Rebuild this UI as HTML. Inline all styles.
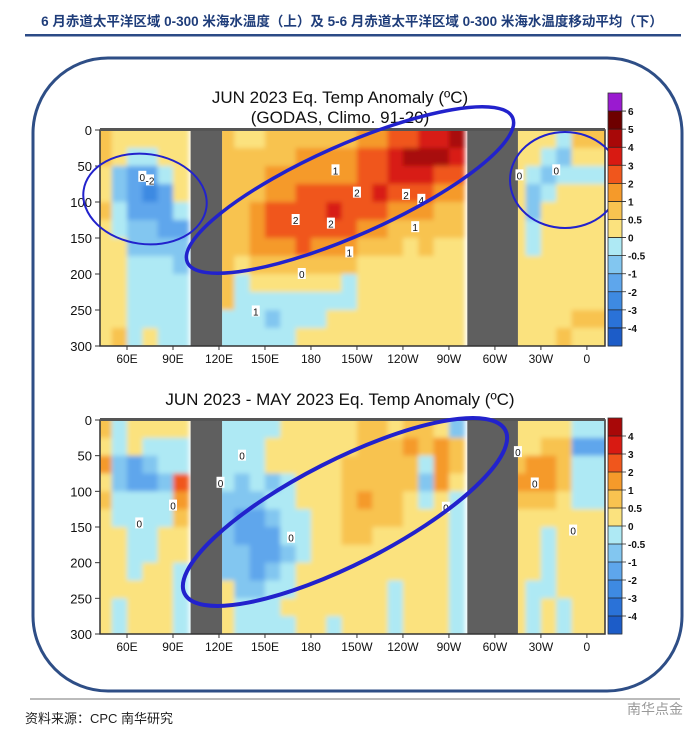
<!DOCTYPE html>
<html><head><meta charset="utf-8">
<style>
body{margin:0;background:#fff;width:700px;height:739px;overflow:hidden;font-family:"Liberation Sans","Noto Sans CJK SC",sans-serif}
svg{position:absolute;left:0;top:0}
</style></head>
<body>
<svg id="s" width="700" height="739" viewBox="0 0 700 739">
<defs><filter id="bl" x="-5%" y="-5%" width="110%" height="110%"><feGaussianBlur stdDeviation="2.5"/></filter>
<clipPath id="cpT"><rect x="100" y="130" width="505" height="216"/></clipPath>
<clipPath id="cpB"><rect x="100" y="420" width="505" height="214"/></clipPath></defs>
<text x="352" y="26" text-anchor="middle" font-size="13.5" font-weight="bold" fill="#1f3d7a" font-family="Liberation Sans,Noto Sans CJK SC,sans-serif">6 月赤道太平洋区域 0-300 米海水温度（上）及 5-6 月赤道太平洋区域 0-300 米海水温度移动平均（下）</text>
<rect x="25" y="34" width="656" height="2.5" fill="#2b4a86"/>
<rect x="33" y="58" width="649" height="633" rx="75" ry="75" fill="none" stroke="#2e4e86" stroke-width="3"/>
<g id="top"></g>
<g id="bot"></g>
<rect x="30" y="698" width="650" height="2" fill="#bbb"/>
<text x="25" y="723" font-size="13" fill="#222">资料来源：CPC 南华研究</text>
<text x="683" y="714" text-anchor="end" font-size="14" fill="#999">南华点金</text>
</svg>
<script>
const lons=[40,50,60,70,80,90,100,110,120,130,140,150,160,170,180,190,200,210,220,230,240,250,260,270,280,290,300,310,320,330,340,350];
const depths=[0,25,50,75,100,125,150,175,200,225,250,275];
const xTickLabels=["60E","90E","120E","150E","180","150W","120W","90W","60W","30W","0"];
const xTickLons=[60,90,120,150,180,210,240,270,300,330,360];
const yTicks=[0,50,100,150,200,250,300];
const topBarLabels=["6","5","4","3","2","1","0.5","0","-0.5","-1","-2","-3","-4"];
const botBarLabels=["4","3","2","1","0.5","0","-0.5","-1","-2","-3","-4"];
const N=null;
const topData=[
[.7,.3,.3,.3,.3,.3,N,N,.8,.3,.3,.6,.6,.6,.7,.8,1.0,1.2,1.6,2.2,2.8,3.2,3.5,4.2,N,N,N,.3,.3,.3,-.2,.7],
[.6,.2,-.3,-.2,.3,.3,N,N,.8,.6,.7,.8,1.0,1.1,1.3,1.5,1.8,2.2,2.8,3.5,4.3,4.5,4.5,3.8,N,N,N,.3,.3,-.3,-.6,.3],
[.4,-.6,-1.2,-1.0,-.3,.3,N,N,1.0,.7,.8,1.2,1.3,1.6,1.8,1.8,2.0,2.4,2.8,3.2,3.5,3.5,3.0,2.2,N,N,N,.3,-.3,-.6,-.4,-.3],
[.3,-.8,-1.5,-2.1,-1.2,.3,N,N,1.0,.8,1.0,1.6,1.8,2.1,2.2,2.3,2.5,2.8,3.1,3.0,2.8,2.4,1.8,1.2,N,N,N,.3,-.8,-.2,.3,.3],
[.6,-.4,-1.2,-1.5,-1.0,-.3,N,N,.9,.8,1.5,2.2,2.4,2.5,2.6,3.1,2.6,2.4,2.3,2.0,1.6,1.3,1.0,.7,N,N,N,.3,-.6,.3,.3,.3],
[.3,-.3,-.8,-.8,-1.2,-1.0,N,N,.8,.6,2.0,2.3,2.8,2.6,2.4,2.5,2.2,1.8,1.4,1.0,.8,.6,.7,.6,N,N,N,.3,-.4,.3,.3,.3],
[.3,.3,-.5,-.5,-.6,-.8,N,N,.7,.7,1.4,1.8,2.0,2.1,2.0,1.7,1.2,1.0,.7,.6,.5,.6,.5,.4,N,N,N,.3,-.3,.3,.3,.3],
[.3,.3,-.4,-.4,-.4,-.5,N,N,.8,.3,1.0,1.0,.9,.9,1.0,.8,.6,.4,.3,.3,.3,.3,.3,.3,N,N,N,.3,.3,.3,.3,.3],
[.3,.3,-.4,-.4,-.3,-.3,N,N,.7,-.3,.3,.3,.3,.3,.3,.1,-.2,.3,.3,.3,.3,.3,.3,.3,N,N,N,.3,.3,.3,.3,.3],
[.3,.3,-.4,-.4,-.3,-.3,N,N,.6,-.4,-.3,-.4,-.4,-.4,-.3,-.3,-.2,.3,.3,.3,.3,.3,.3,.3,N,N,N,.3,.3,.3,.3,.3],
[.3,.3,-.4,-.3,-.3,-.3,N,N,-.3,-.4,-.3,-.6,-.4,-.3,-.3,.3,.3,.3,.3,.3,.3,.3,.3,.3,N,N,N,.3,.3,.3,.3,.6],
[.3,.6,-.3,.3,-.3,-.3,N,N,-.3,-.3,-.3,-.3,-.3,.3,.3,.3,.3,.3,.3,.3,.3,.3,.3,.3,N,N,N,.3,.3,.3,.6,.3]];
const botData=[
[.7,-.3,.3,.3,.3,.3,N,N,-.3,-.3,-.3,-.3,.3,.3,.3,.3,.3,.7,.7,.3,.7,.7,.3,-.6,N,N,N,.3,.3,.3,.3,-.3],
[.3,-.3,.3,-.3,-.3,-.3,N,N,-.3,-.3,-.3,.3,.3,.3,.3,.3,.3,.7,.7,.7,1.2,.7,1.2,.7,N,N,N,.3,.3,.7,.7,-1.0],
[1.2,-.7,-1.2,-.6,-.3,-.3,N,N,-.3,-.3,-.3,.3,.3,.3,.3,.3,.7,.7,.7,.7,.7,-.3,1.2,.7,N,N,N,.7,1.2,2.0,.7,-.3],
[.3,-.8,-1.2,-1.1,-.6,2.2,N,N,-.3,-.6,-.3,-.6,-.3,.3,.3,.3,.7,.7,.7,.7,.7,-.6,1.2,.3,N,N,N,1.2,1.2,1.2,.7,-.3],
[.7,-.3,-.4,-.4,-.4,2.0,N,N,-.6,-.7,-.6,-.4,-.3,.3,.3,.3,.7,1.3,.7,.7,.3,-.3,.3,-.3,N,N,N,.7,.7,.7,.3,-.3],
[.3,-.3,-.3,-.3,-.3,.7,N,N,-.6,-1.0,-1.2,-.7,-.3,-.3,.3,.3,.7,.7,.7,.7,.3,.3,.3,-.3,N,N,N,.3,.3,.3,.3,.3],
[.3,.3,-.3,-.3,.3,.3,N,N,-.6,-1.1,-1.3,-1.0,-.4,-.3,.3,.3,.7,.7,.3,.3,.3,.3,.3,-.3,N,N,N,.3,.3,-.3,.3,.3],
[.3,.3,-.3,-.3,.3,.3,N,N,-.6,-.8,-1.2,-1.1,-.6,-.3,.3,.3,.3,.3,.3,.3,.3,.3,.3,-.3,N,N,N,.3,.3,-.3,.3,.3],
[.3,.3,-.3,.3,.3,-.3,N,N,-.6,-.7,-1.0,-.7,-.3,.3,.3,.3,.3,.3,.3,.3,.3,.3,.3,-.3,N,N,N,.3,.3,-.3,.3,.3],
[.3,.3,.3,.3,.3,-.3,N,N,.3,-.6,-.6,-.4,-.3,.3,.3,.3,.3,.3,.3,-.3,.3,.3,.3,-.3,N,N,N,.3,-.3,-.3,.3,.3],
[.3,-.3,.3,.3,.3,-.3,N,N,.3,-.3,-.3,-.3,.3,.3,.3,.3,.3,.3,.3,-.3,.3,.3,.3,-.3,N,N,N,.3,-.3,.3,-.3,.3],
[.3,-.3,.3,.3,.3,-.3,N,N,.3,-.3,-.3,-.3,-.3,.3,.3,-.3,.3,.3,.3,-.3,.3,.3,.3,-.3,N,N,N,.3,-.3,.3,-.3,.3]];

const NS="http://www.w3.org/2000/svg";
const PL=100,PR=605;
function xS(lon){return 127+(lon-60)*1.533;}
function color(v){
 if(v>6)return"#9a1ad0";if(v>5)return"#6e0000";if(v>4)return"#a80808";if(v>3)return"#d81a12";
 if(v>2)return"#f0561c";if(v>1)return"#f59a2a";if(v>0.5)return"#f8c350";if(v>=0)return"#fbe27e";
 if(v>-0.5)return"#aee9f4";if(v>-1)return"#82c6f0";if(v>-2)return"#5ea6ec";if(v>-3)return"#3e8ae2";if(v>-4)return"#2a72d8";return"#1c5cc8";}
const barColsTop=["#9a1ad0","#6e0000","#a80808","#d81a12","#f0561c","#f59a2a","#f8c350","#fbe27e","#aee9f4","#82c6f0","#5ea6ec","#3e8ae2","#2a72d8","#1c5cc8"];
const barColsBot=["#a80808","#d81a12","#f0561c","#f59a2a","#f8c350","#fbe27e","#aee9f4","#82c6f0","#5ea6ec","#3e8ae2","#2a72d8","#1c5cc8"];
function mk(tag,attrs,parent){const e=document.createElementNS(NS,tag);for(const k in attrs)e.setAttribute(k,attrs[k]);parent.appendChild(e);return e;}
function txt(parent,x,y,s,size,anchor){const t=mk("text",{x:x,y:y,"font-size":size,"text-anchor":anchor||"middle",fill:"#111","font-family":"Liberation Sans,sans-serif"},parent);t.textContent=s;return t;}

function chart(g,data,y0,y1,titles,barTop,barLabels,barCols,ellipses,labels,clip){
 const yS=d=>y0+(d/300)*(y1-y0);
 titles.forEach((t,i)=>{const e=txt(g,340,t[1],t[0],17);
  
  });
 const cg=mk("g",{"clip-path":`url(#${clip})`},g);
 const hg=mk("g",{filter:"url(#bl)"},cg);
 for(let r=0;r<depths.length;r++){for(let c=0;c<lons.length;c++){
  const v=data[r][c];if(v===null)continue;
  let xa=c==0?PL-10:xS(lons[c]),xb=c==lons.length-1?PR+10:xS(lons[c]+10);
  let ya=r==0?y0-10:yS(depths[r]),yb=r==depths.length-1?y1+10:yS(depths[r]+25);
  const rc=mk("rect",{x:xa,y:ya,width:xb-xa+0.6,height:yb-ya+0.6,fill:color(v)},hg);
  
  
 }}
 const l1=mk("rect",{x:xS(101.5),y:y0,width:xS(122)-xS(101.5),height:y1-y0,fill:"#5f5f5f"},g);
 
 
 const l2=mk("rect",{x:xS(282),y:y0,width:xS(315)-xS(282),height:y1-y0,fill:"#5f5f5f"},g);
 
 
 const fr=mk("rect",{x:PL,y:y0,width:PR-PL,height:y1-y0,fill:"none",stroke:"#333","stroke-width":1.5},g);
 
 
 mk("rect",{x:PL,y:y0-2,width:PR-PL,height:3,fill:"#555"},g);
 yTicks.forEach(d=>{mk("line",{x1:PL-5,x2:PL,y1:yS(d),y2:yS(d),stroke:"#333"},g);
  const t=txt(g,PL-8,yS(d)+5,String(d),13,"end");
  
  });
 xTickLons.forEach((lo,i)=>{mk("line",{x1:xS(lo),x2:xS(lo),y1:y1,y2:y1+4,stroke:"#333"},g);
  const t=txt(g,xS(lo),y1+17,xTickLabels[i],12);
  
  });
 labels.forEach(L=>{mk("rect",{x:xS(L[0])-4,y:yS(L[1])-6,width:8,height:11,fill:"#fff"},g);
  const t=txt(g,xS(L[0]),yS(L[1])+4,L[2],10);
  
  });
 ellipses.forEach(E=>{const e=mk("ellipse",{cx:E[0],cy:E[1],rx:E[2],ry:E[3],transform:`rotate(${E[4]} ${E[0]} ${E[1]})`,fill:"none",stroke:"#2222cc","stroke-width":E[5]},g);
  
  });
 const nb=barCols.length,bh=(y1-barTop)/nb;
 barCols.forEach((c,i)=>{const r=mk("rect",{x:608,y:barTop+i*bh,width:14,height:bh+0.5,fill:c},g);
  
  });
 mk("rect",{x:608,y:barTop,width:14,height:y1-barTop,fill:"none",stroke:"#333","stroke-width":0.8},g);
 barLabels.forEach((s,i)=>{const yy=barTop+(i+1)*bh;mk("line",{x1:608,x2:626,y1:yy,y2:yy,stroke:"#222","stroke-width":0.8},g);
  const t=txt(g,628,yy+4,s,10,"start");t.setAttribute("font-weight","bold");
  
  });
}
chart(document.getElementById("top"),topData,130,346,[["JUN 2023  Eq. Temp Anomaly (ºC)",103],["(GODAS,  Climo. 91-20)",123]],93,topBarLabels,barColsTop,
 [[145,199,62,45,8,2],[350,190,178,45,-24,3.5],[565,180,55,48,0,2]],
 [[70,65,"0"],[75,70,"-2"],[196,56,"1"],[210,87,"2"],[252,97,"4"],[242,90,"2"],[193,130,"2"],[170,125,"2"],[205,170,"1"],[174,200,"0"],[144,252,"1"],[248,135,"1"],[316,63,"0"],[340,56,"0"]],"cpT");
chart(document.getElementById("bot"),botData,420,634,[["JUN 2023 - MAY 2023  Eq. Temp Anomaly (ºC)",405]],418,botBarLabels,barColsBot,
 [[345,512,180,52,-27,4]],
 [[68,145,"0"],[90,120,"0"],[135,50,"0"],[121,88,"0"],[167,165,"0"],[268,123,"0"],[315,45,"0"],[326,89,"0"],[351,155,"0"]],"cpB");
</script>
</body></html>
